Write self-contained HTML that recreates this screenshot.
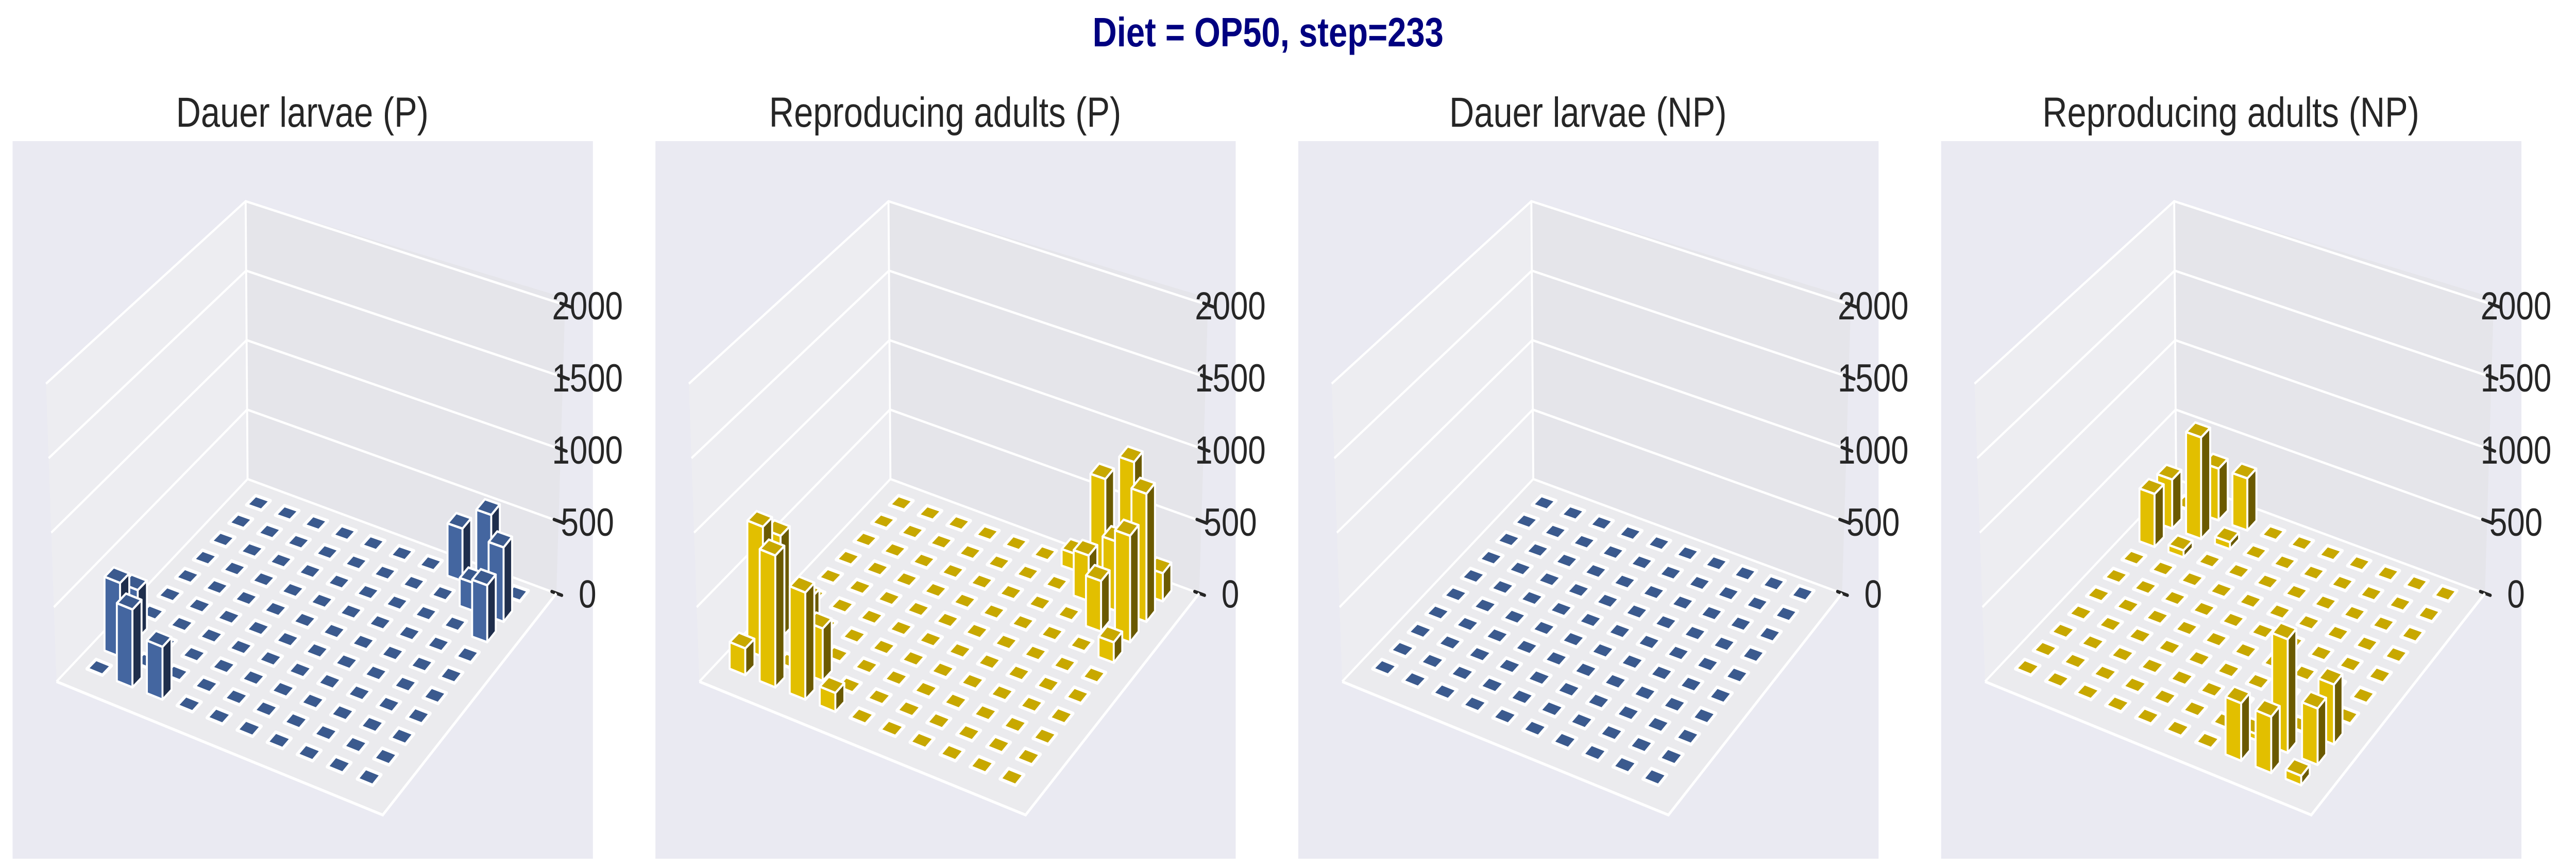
<!DOCTYPE html>
<html><head><meta charset="utf-8"><style>
html,body{margin:0;padding:0;background:#fff;width:100%;height:100%;overflow:hidden;}
svg{display:block;width:100vw;height:100vh;font-family:"Liberation Sans",Arial,sans-serif;}
</style></head><body>
<svg id="fig" xmlns="http://www.w3.org/2000/svg" viewBox="0 0 6135 1685" preserveAspectRatio="none">
<text x="3020" y="90" font-size="80" font-weight="bold" fill="#000080" text-anchor="middle">Diet = OP50, step=233</text>
</svg>
<script>
// ---- data: bar heights, 10x10 grid; [a, b, value] for non-zero cells ----
const panelTitles = ["Dauer larvae (P)", "Reproducing adults (P)", "Dauer larvae (NP)", "Reproducing adults (NP)"];
const panelColors = ["blue", "yellow", "blue", "yellow"];
const zTicks = [0, 500, 1000, 1500, 2000];
const gridSize = 10;
const barsP1 = [[1,0,520],[2,0,350],[0,1,500],[0,2,330],[9,7,380],[9,8,500],[8,8,190],[8,9,520],[7,9,360]];
const barsP2 = [[0,1,880],[0,2,700],[1,0,880],[2,0,710],[2,1,350],[0,0,180],[3,0,125],[1,2,350],
  [7,9,700],[8,9,880],[9,8,860],[8,8,470],[9,7,710],[7,8,310],[6,9,115],[8,7,340],[9,6,135],[9,9,190]];
const barsP3 = [];
const barsP4 = [[0,7,375],[0,8,350],[1,8,720],[1,9,370],[2,9,370],[1,7,50],[2,8,50],
  [7,0,370],[8,0,360],[9,0,60],[8,1,730],[9,1,360],[9,2,385],[7,1,40]];
const panelBars = [barsP1, barsP2, barsP3, barsP4];

const NS = "http://www.w3.org/2000/svg";
const svg = document.getElementById("fig");
const COLORS = {
  blue: {front:"#4466a0", side:"#1f2e4c", top:"#3b5a8e"},
  yellow: {front:"#e2bf00", side:"#6b5a00", top:"#c8a800"}
};
const L0=[255,1130], F0=[950,1360], B0=[665,785], R0=[1330,975];
const kL=0.3125, kF=0.331, kB=0.2915, kR=0.31;
function bil(a,b,vL,vF,vB,vR){const u=a/9,v=b/9;return vL*(1-u)*(1-v)+vF*u*(1-v)+vB*(1-u)*v+vR*u*v;}
function P(a,b){return [bil(a,b,L0[0],F0[0],B0[0],R0[0]), bil(a,b,L0[1],F0[1],B0[1],R0[1])];}
function K(a,b){return bil(a,b,kL,kF,kB,kR);}
function zY(z){return 975 - z*(605/2000);}
function mk(tag, attrs, parent){const e=document.createElementNS(NS,tag);for(const k in attrs)e.setAttribute(k,attrs[k]);parent.appendChild(e);return e;}
function pts(arr){return arr.map(p=>p[0].toFixed(1)+","+p[1].toFixed(1)).join(" ");}

panelTitles.forEach((title, pi) => {
  const x0 = 30 + 1531*pi;
  const t = mk("text", {x: x0+690, y: 246, "font-size": 82, fill: "#262626", "text-anchor": "middle"}, svg);
  t.textContent = title;
  
  
  mk("rect", {x:x0, y:274, width:1382, height:1393, fill:"#eaeaf2"}, svg);
  const g = mk("g", {transform:`translate(${x0 - 32/1.081},250) scale(${1/1.081})`}, svg);
  
  
  mk("polygon", {points:"637,735 145,1160 118,535 632,152", fill:"#ededf1"}, g);
  mk("polygon", {points:"637,735 1432,975 1455,355 632,152", fill:"#e5e5ea"}, g);
  mk("polygon", {points:"637,735 145,1160 985,1440 1432,975", fill:"#ebebee"}, g);
  zTicks.forEach(z => {
    const f = z/2000;
    const by = 735 - f*583, bx = 637 - f*5;
    const ly = 1160 - f*625, lx = 145 - f*27;
    const ry = zY(z), rx = 1432 + f*23;
    const gl = mk("polyline", {points:`${lx},${ly} ${bx},${by} ${rx},${ry}`, fill:"none", stroke:"#fff", "stroke-width":5}, g);
    
    
    mk("line", {x1:rx-12, y1:ry-4, x2:rx+14, y2:ry+4, stroke:"#262626", "stroke-width":7, "stroke-linecap":"round"}, g);
    const lab = mk("text", {x:1512, y:ry+30, "font-size":82, fill:"#262626", "text-anchor":"middle"}, g);
    lab.textContent = String(z);
    
    
  });
  mk("polyline", {points:"145,1160 985,1440 1432,975", fill:"none", stroke:"#fff", "stroke-width":6}, g);
  mk("line", {x1:637,y1:735,x2:632,y2:152, stroke:"#fff","stroke-width":5}, g);
  const vals = [];
  for (let a=0;a<gridSize;a++) for (let b=0;b<gridSize;b++) vals.push([a,b,0]);
  panelBars[pi].forEach(([a,b,v]) => { vals[a*gridSize+b][2] = v; });
  vals.sort((p,q)=>(q[1]-q[0])-(p[1]-p[0]) || (p[0]-q[0]));
  const col = COLORS[panelColors[pi]];
  const h = 0.26;
  vals.forEach(([a,b,v]) => {
    const bar = mk("g", {}, g);
    
    
    const k = K(a,b), dz = v*k;
    const c1=P(a-h,b-h), c2=P(a+h,b-h), c3=P(a+h,b+h), c4=P(a-h,b+h);
    const up = p=>[p[0], p[1]-dz];
    const sw = 5;
    if (v > 0) {
      mk("polygon", {points:pts([c1,c2,up(c2),up(c1)]), fill:col.front, stroke:"#fff", "stroke-width":sw, "stroke-linejoin":"round"}, bar);
      mk("polygon", {points:pts([c2,c3,up(c3),up(c2)]), fill:col.side, stroke:"#fff", "stroke-width":sw, "stroke-linejoin":"round"}, bar);
    }
    mk("polygon", {points:pts([up(c1),up(c2),up(c3),up(c4)]), fill:col.top, stroke:"#fff", "stroke-width":v>0?sw:7, "stroke-linejoin":"round"}, bar);
  });
});
</script>
</body></html>
